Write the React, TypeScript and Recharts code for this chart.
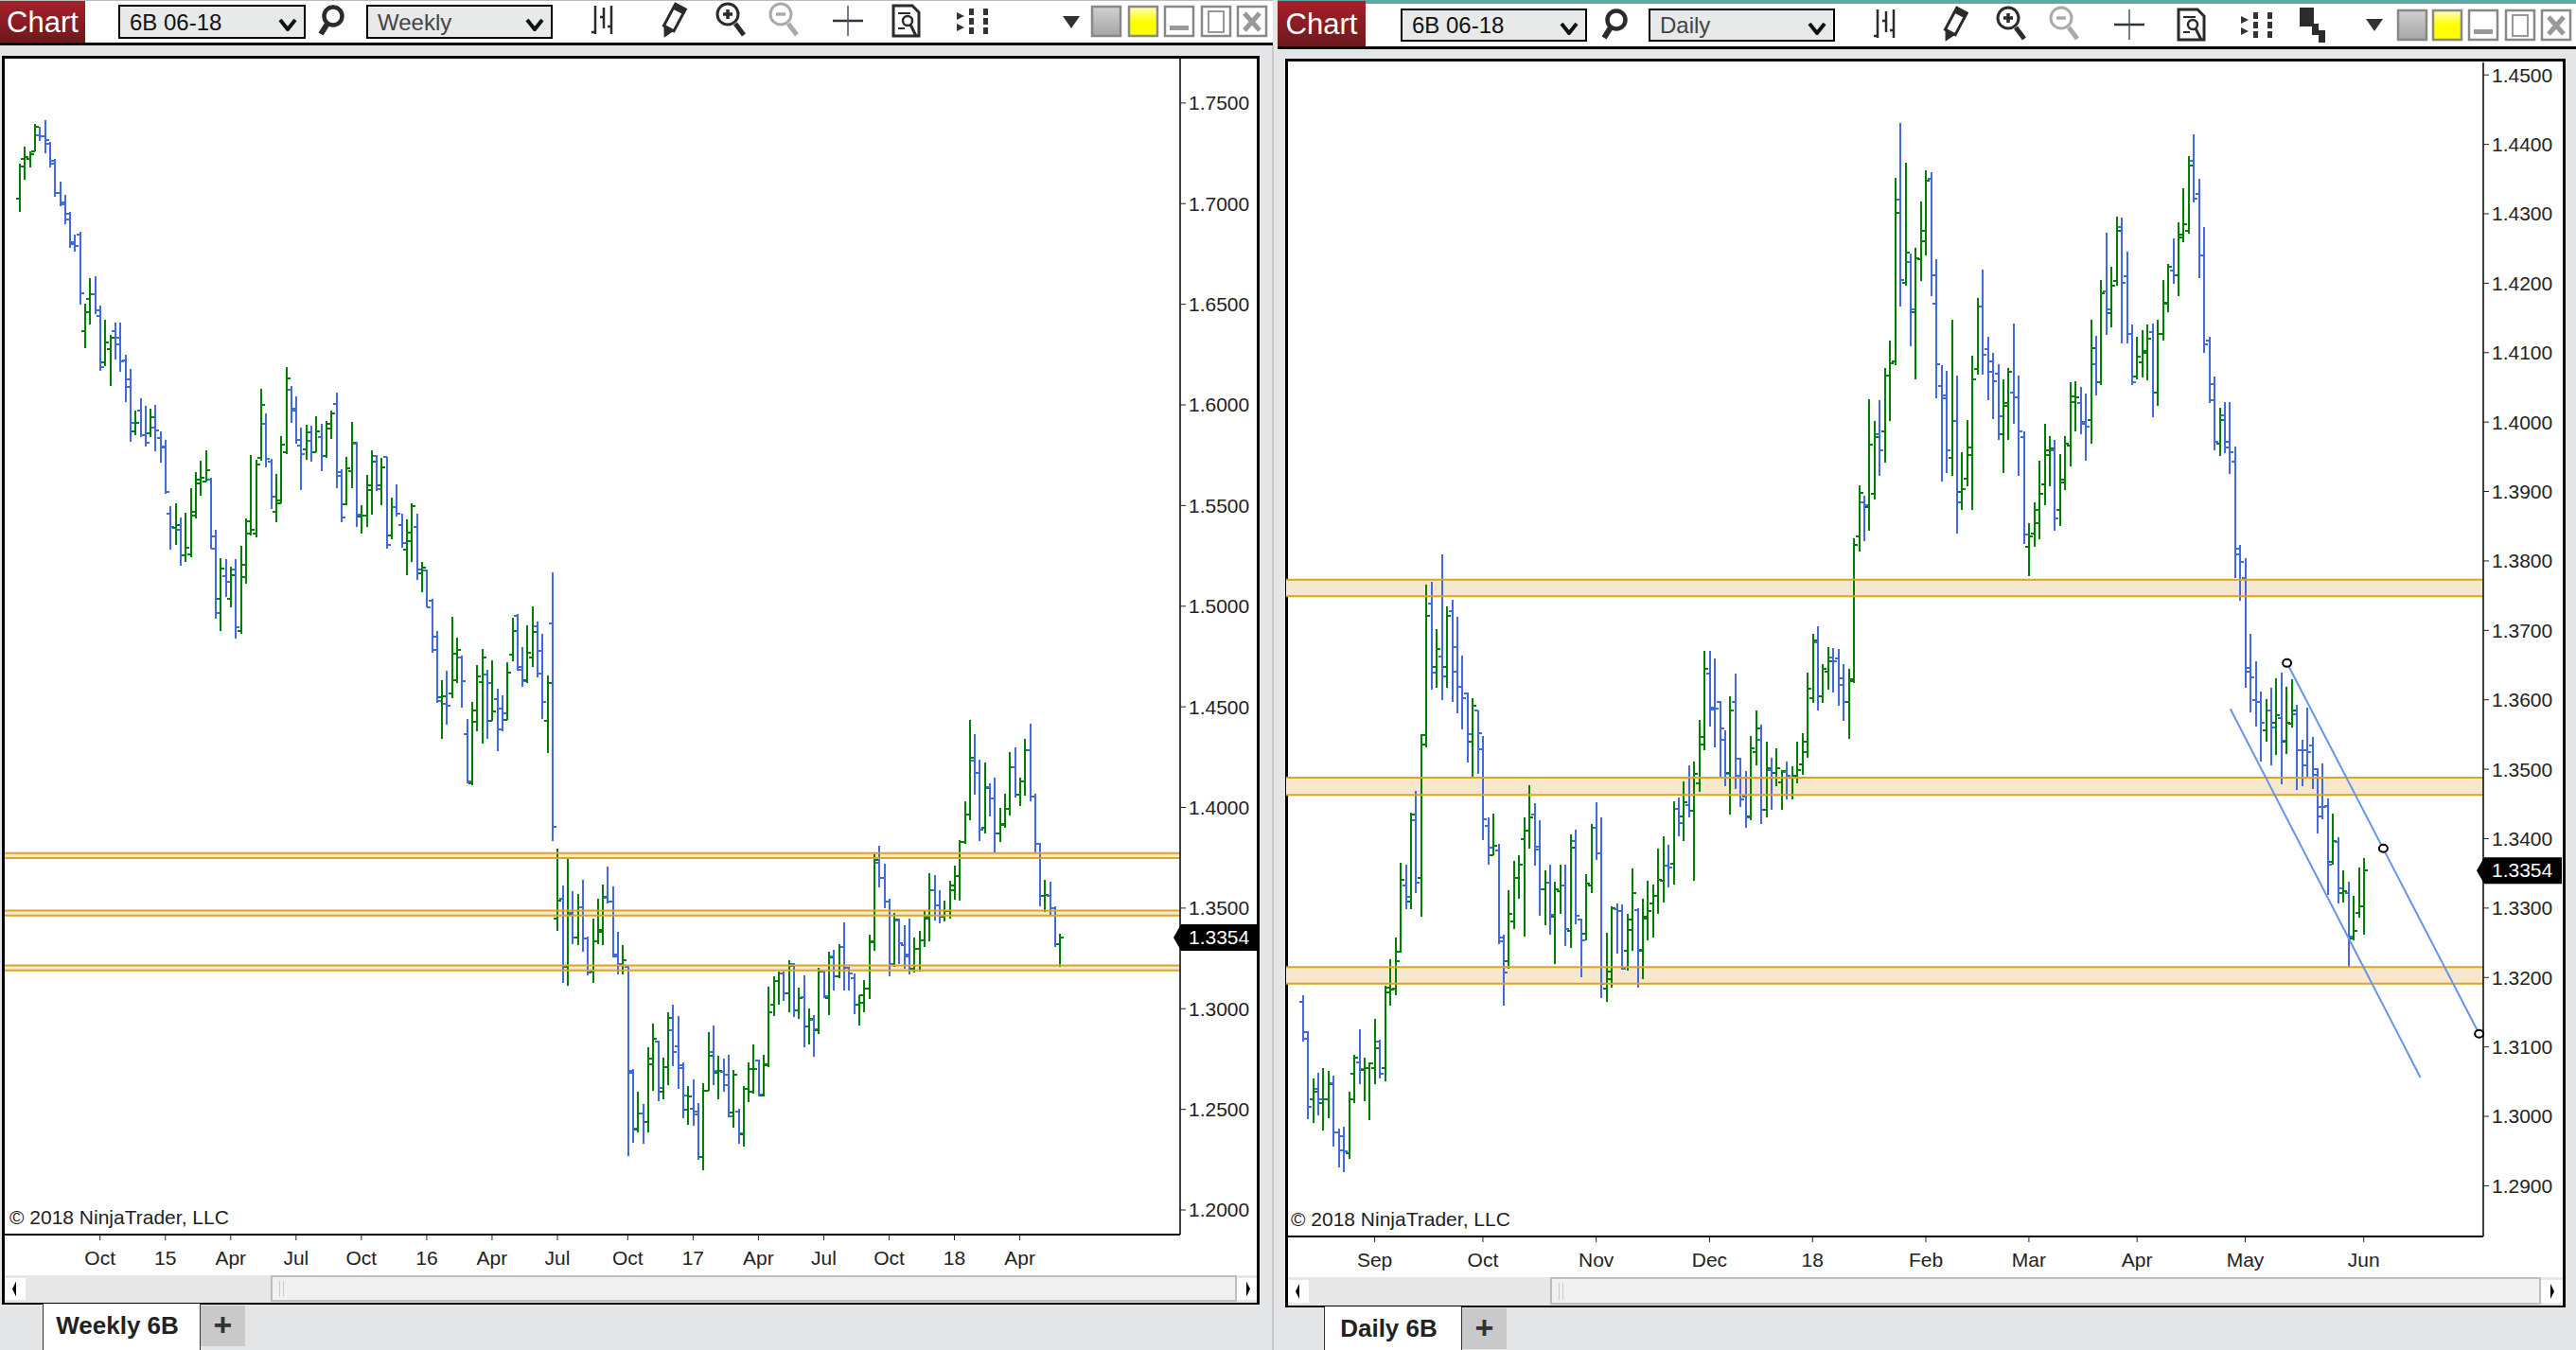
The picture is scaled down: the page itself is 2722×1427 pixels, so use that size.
import { Bar, ComposedChart, ReferenceArea, ReferenceDot, ReferenceLine, XAxis, YAxis } from 'recharts';

// [open, high, low, close]
const weeklyOhlc = [
  [1.7026,1.7199,1.6960,1.7186],[1.7221,1.7282,1.7120,1.7231],[1.7221,1.7258,1.7181,1.7244],[1.7258,1.7395,1.7258,1.7383],
  [1.7341,1.7384,1.7312,1.7334],[1.7334,1.7413,1.7251,1.7316],[1.7298,1.7305,1.7181,1.7199],[1.7213,1.7222,1.7032,1.7055],
  [1.7055,1.7107,1.6985,1.7005],[1.6996,1.7042,1.6898,1.6922],[1.6951,1.6961,1.6781,1.6807],[1.6798,1.6848,1.6763,1.6790],
  [1.6848,1.6862,1.6499,1.6555],[1.6367,1.6501,1.6283,1.6463],[1.6528,1.6632,1.6400,1.6551],[1.6551,1.6639,1.6452,1.6470],
  [1.6443,1.6495,1.6169,1.6186],[1.6213,1.6425,1.6193,1.6308],[1.6279,1.6349,1.6096,1.6333],[1.6367,1.6407,1.6227,1.6301],
  [1.6333,1.6411,1.6166,1.6218],[1.6222,1.6247,1.6015,1.6090],[1.6128,1.6177,1.5817,1.5910],[1.5869,1.5970,1.5851,1.5910],
  [1.5971,1.6034,1.5840,1.5849],[1.5849,1.5997,1.5793,1.5811],[1.5860,1.5979,1.5840,1.5939],[1.5885,1.6002,1.5770,1.5871],
  [1.5835,1.5867,1.5714,1.5791],[1.5788,1.5827,1.5559,1.5566],[1.5460,1.5496,1.5283,1.5396],[1.5391,1.5510,1.5306,1.5403],
  [1.5380,1.5439,1.5203,1.5255],[1.5255,1.5463,1.5222,1.5291],[1.5258,1.5587,1.5245,1.5469],[1.5450,1.5665,1.5438,1.5631],
  [1.5612,1.5722,1.5551,1.5640],[1.5618,1.5775,1.5618,1.5678],[1.5631,1.5638,1.5284,1.5286],[1.5347,1.5380,1.4940,1.4966],
  [1.5038,1.5237,1.4878,1.5187],[1.5150,1.5234,1.5048,1.5121],[1.5038,1.5195,1.4996,1.5154],[1.5182,1.5233,1.4841,1.4897],
  [1.4875,1.5298,1.4864,1.5208],[1.5145,1.5435,1.5114,1.5422],[1.5361,1.5750,1.5352,1.5380],[1.5361,1.5726,1.5344,1.5704],
  [1.5736,1.6078,1.5723,1.6000],[1.5905,1.5959,1.5691,1.5732],[1.5719,1.5732,1.5482,1.5543],[1.5467,1.5658,1.5417,1.5525],
  [1.5511,1.5847,1.5509,1.5802],[1.5764,1.6186,1.5754,1.6132],[1.6074,1.6096,1.5912,1.5980],[1.5971,1.6042,1.5808,1.5826],
  [1.5797,1.5885,1.5577,1.5755],[1.5779,1.5903,1.5728,1.5863],[1.5822,1.5898,1.5718,1.5764],[1.5764,1.5944,1.5763,1.5869],
  [1.5840,1.5908,1.5671,1.5745],[1.5746,1.5919,1.5739,1.5883],[1.5907,1.5971,1.5831,1.5957],[1.6007,1.6063,1.5586,1.5647],
  [1.5668,1.5679,1.5419,1.5443],[1.5507,1.5740,1.5501,1.5685],[1.5673,1.5917,1.5588,1.5811],[1.5807,1.5815,1.5396,1.5455],
  [1.5446,1.5500,1.5363,1.5449],[1.5449,1.5651,1.5396,1.5602],[1.5579,1.5775,1.5457,1.5718],[1.5747,1.5753,1.5574,1.5580],
  [1.5602,1.5737,1.5504,1.5690],[1.5740,1.5740,1.5287,1.5305],[1.5352,1.5540,1.5334,1.5493],[1.5493,1.5604,1.5447,1.5461],
  [1.5403,1.5458,1.5292,1.5316],[1.5283,1.5432,1.5156,1.5366],[1.5323,1.5510,1.5222,1.5497],[1.5394,1.5458,1.5132,1.5182],
  [1.5165,1.5218,1.5071,1.5192],[1.5178,1.5184,1.4993,1.4993],[1.5029,1.5035,1.4770,1.4781],[1.4850,1.4875,1.4521,1.4527],
  [1.4549,1.4631,1.4341,1.4551],[1.4515,1.4678,1.4413,1.4506],[1.4568,1.4946,1.4545,1.4766],[1.4634,1.4842,1.4620,1.4784],
  [1.4745,1.4753,1.4498,1.4628],[1.4366,1.4438,1.4118,1.4129],[1.4118,1.4523,1.4112,1.4482],[1.4427,1.4706,1.4380,1.4651],
  [1.4623,1.4786,1.4319,1.4747],[1.4662,1.4683,1.4343,1.4620],[1.4432,1.4730,1.4432,1.4479],[1.4540,1.4589,1.4281,1.4390],
  [1.4493,1.4556,1.4380,1.4468],[1.4435,1.4722,1.4435,1.4672],[1.4761,1.4941,1.4725,1.4878],[1.4954,1.4960,1.4678,1.4683],
  [1.4698,1.4795,1.4601,1.4628],[1.4631,1.4904,1.4620,1.4769],[1.4745,1.4998,1.4700,1.4874],[1.4900,1.4922,1.4648,1.4667],
  [1.4778,1.4861,1.4440,1.4524],[1.4432,1.4654,1.4272,1.4618],[1.4914,1.5167,1.3832,1.3905],[1.3448,1.3798,1.3385,1.3536],
  [1.3546,1.3611,1.3126,1.3215],[1.3210,1.3748,1.3114,1.3469],[1.3474,1.3582,1.3323,1.3354],[1.3354,1.3570,1.3318,1.3503],
  [1.3505,1.3642,1.3282,1.3347],[1.3347,1.3359,1.3167,1.3181],[1.3184,1.3450,1.3126,1.3337],[1.3337,1.3546,1.3323,1.3390],
  [1.3383,1.3618,1.3318,1.3558],[1.3553,1.3707,1.3522,1.3534],[1.3534,1.3606,1.3253,1.3258],[1.3270,1.3383,1.3172,1.3222],
  [1.3217,1.3318,1.3172,1.3239],[1.3210,1.3210,1.2267,1.2682],[1.2689,1.2699,1.2334,1.2406],[1.2399,1.2586,1.2387,1.2478],
  [1.2478,1.2526,1.2327,1.2435],[1.2435,1.2809,1.2387,1.2754],[1.2725,1.2927,1.2593,1.2850],[1.2838,1.2843,1.2543,1.2605],
  [1.2586,1.2759,1.2550,1.2711],[1.2711,1.2982,1.2622,1.2953],[1.2893,1.3018,1.2713,1.2785],[1.2814,1.2965,1.2603,1.2706],
  [1.2718,1.2735,1.2454,1.2569],[1.2497,1.2615,1.2425,1.2562],[1.2502,1.2651,1.2418,1.2490],[1.2473,1.2533,1.2250,1.2262],
  [1.2262,1.2629,1.2197,1.2591],[1.2593,1.2886,1.2591,1.2766],[1.2783,1.2915,1.2622,1.2689],[1.2682,1.2766,1.2550,1.2689],
  [1.2687,1.2754,1.2586,1.2622],[1.2670,1.2773,1.2459,1.2466],[1.2485,1.2694,1.2411,1.2670],[1.2490,1.2502,1.2329,1.2382],
  [1.2377,1.2615,1.2315,1.2603],[1.2603,1.2735,1.2538,1.2699],[1.2586,1.2821,1.2579,1.2699],[1.2742,1.2747,1.2562,1.2574],
  [1.2569,1.2773,1.2562,1.2718],[1.2723,1.3109,1.2711,1.2982],[1.3018,1.3162,1.2965,1.3138],[1.3138,1.3186,1.3018,1.3174],
  [1.3174,1.3186,1.3037,1.3078],[1.3078,1.3239,1.2982,1.3215],[1.3222,1.3229,1.2958,1.2994],[1.2994,1.3107,1.2951,1.3054],
  [1.3059,1.3167,1.2809,1.2910],[1.2910,1.2999,1.2821,1.2951],[1.2946,1.2970,1.2761,1.2898],[1.2893,1.3203,1.2874,1.3186],
  [1.3186,1.3191,1.3054,1.3061],[1.3054,1.3282,1.2970,1.3253],[1.3258,1.3294,1.3090,1.3162],[1.3162,1.3323,1.3150,1.3306],
  [1.3306,1.3431,1.3090,1.3203],[1.3203,1.3210,1.3090,1.3174],[1.3150,1.3174,1.2975,1.3018],[1.3018,1.3066,1.2917,1.3066],
  [1.3030,1.3143,1.2982,1.3102],[1.3102,1.3366,1.3049,1.3335],[1.3330,1.3769,1.3289,1.3738],[1.3726,1.3810,1.3601,1.3649],
  [1.3649,1.3721,1.3498,1.3534],[1.3534,1.3546,1.3162,1.3222],[1.3217,1.3474,1.3210,1.3443],[1.3438,1.3450,1.3222,1.3325],
  [1.3318,1.3414,1.3198,1.3270],[1.3258,1.3450,1.3169,1.3198],[1.3198,1.3354,1.3179,1.3299],[1.3299,1.3385,1.3184,1.3342],
  [1.3342,1.3486,1.3306,1.3455],[1.3450,1.3673,1.3335,1.3587],[1.3587,1.3666,1.3438,1.3515],[1.3515,1.3589,1.3426,1.3455],
  [1.3455,1.3539,1.3433,1.3486],[1.3486,1.3635,1.3450,1.3611],[1.3587,1.3709,1.3541,1.3659],[1.3659,1.3836,1.3539,1.3827],
  [1.3827,1.4033,1.3817,1.3966],[1.3966,1.4434,1.3937,1.4247],[1.4235,1.4364,1.4062,1.4170],[1.4170,1.4237,1.3834,1.3889],
  [1.3901,1.4225,1.3870,1.4098],[1.4103,1.4122,1.3954,1.4043],[1.4043,1.4146,1.3774,1.3870],[1.3870,1.3997,1.3827,1.3918],
  [1.3913,1.4069,1.3901,1.3995],[1.3995,1.4273,1.3961,1.4201],[1.4201,1.4297,1.4048,1.4062],[1.4062,1.4146,1.4007,1.4129],
  [1.4129,1.4343,1.4057,1.4283],[1.4283,1.4417,1.4031,1.4055],[1.4055,1.4067,1.3779,1.3817],[1.3817,1.3822,1.3510,1.3563],
  [1.3563,1.3642,1.3481,1.3565],[1.3563,1.3630,1.3469,1.3498],[1.3498,1.3510,1.3306,1.3323],[1.3323,1.3371,1.3210,1.3354],
];

const dailyOhlc = [
  [1.3165,1.3174,1.3108,1.3122],[1.3112,1.3123,1.2996,1.3014],[1.3024,1.3055,1.2991,1.3036],[1.3040,1.3063,1.3002,1.3024],
  [1.3019,1.3069,1.2980,1.3025],[1.3024,1.3066,1.2998,1.3047],[1.3048,1.3058,1.2957,1.2977],[1.2977,1.2983,1.2927,1.2971],
  [1.2951,1.2985,1.2919,1.2950],[1.2947,1.3036,1.2939,1.3024],[1.3061,1.3089,1.3019,1.3084],[1.3078,1.3126,1.3047,1.3068],
  [1.3067,1.3084,1.3022,1.3069],[1.3069,1.3078,1.2994,1.3077],[1.3070,1.3140,1.3047,1.3098],[1.3108,1.3110,1.3054,1.3062],
  [1.3070,1.3188,1.3050,1.3185],[1.3179,1.3226,1.3159,1.3183],[1.3184,1.3257,1.3174,1.3223],[1.3237,1.3365,1.3236,1.3341],
  [1.3332,1.3363,1.3299,1.3316],[1.3310,1.3438,1.3299,1.3435],[1.3426,1.3469,1.3322,1.3337],[1.3344,1.3550,1.3287,1.3549],
  [1.3535,1.3766,1.3531,1.3721],[1.3739,1.3770,1.3614,1.3639],[1.3647,1.3702,1.3617,1.3673],[1.3662,1.3810,1.3599,1.3633],
  [1.3647,1.3735,1.3617,1.3721],[1.3728,1.3744,1.3597,1.3676],[1.3641,1.3719,1.3580,1.3619],[1.3619,1.3664,1.3557,1.3603],
  [1.3609,1.3611,1.3510,1.3550],[1.3540,1.3602,1.3486,1.3592],[1.3585,1.3585,1.3493,1.3552],[1.3529,1.3548,1.3398,1.3428],
  [1.3419,1.3431,1.3362,1.3387],[1.3376,1.3436,1.3376,1.3390],[1.3383,1.3392,1.3248,1.3252],[1.3258,1.3261,1.3160,1.3207],
  [1.3223,1.3326,1.3213,1.3292],[1.3281,1.3368,1.3270,1.3343],[1.3343,1.3376,1.3314,1.3362],[1.3399,1.3430,1.3259,1.3412],
  [1.3412,1.3477,1.3386,1.3431],[1.3435,1.3451,1.3361,1.3384],[1.3388,1.3426,1.3289,1.3327],[1.3327,1.3355,1.3275,1.3337],
  [1.3337,1.3363,1.3262,1.3290],[1.3288,1.3338,1.3219,1.3327],[1.3324,1.3363,1.3291,1.3332],[1.3332,1.3362,1.3246,1.3270],
  [1.3267,1.3406,1.3242,1.3387],[1.3397,1.3413,1.3277,1.3289],[1.3284,1.3285,1.3201,1.3254],[1.3263,1.3349,1.3253,1.3335],
  [1.3332,1.3421,1.3321,1.3415],[1.3416,1.3453,1.3370,1.3379],[1.3379,1.3431,1.3170,1.3191],[1.3184,1.3265,1.3165,1.3208],
  [1.3197,1.3303,1.3186,1.3300],[1.3299,1.3306,1.3235,1.3296],[1.3296,1.3305,1.3211,1.3212],[1.3239,1.3292,1.3210,1.3284],
  [1.3269,1.3357,1.3238,1.3322],[1.3297,1.3300,1.3186,1.3240],[1.3238,1.3313,1.3198,1.3288],[1.3285,1.3339,1.3254,1.3296],
  [1.3307,1.3334,1.3257,1.3317],[1.3317,1.3386,1.3291,1.3341],[1.3340,1.3404,1.3308,1.3361],[1.3361,1.3391,1.3330,1.3358],
  [1.3364,1.3454,1.3334,1.3443],[1.3443,1.3459,1.3404,1.3423],[1.3432,1.3482,1.3397,1.3453],[1.3449,1.3505,1.3430,1.3440],
  [1.3440,1.3511,1.3340,1.3493],[1.3480,1.3571,1.3467,1.3546],[1.3535,1.3670,1.3528,1.3644],[1.3638,1.3670,1.3562,1.3586],
  [1.3589,1.3659,1.3531,1.3588],[1.3597,1.3598,1.3487,1.3559],[1.3543,1.3556,1.3475,1.3493],[1.3495,1.3605,1.3435,1.3585],
  [1.3597,1.3638,1.3471,1.3491],[1.3515,1.3516,1.3445,1.3457],[1.3460,1.3498,1.3416,1.3431],[1.3432,1.3548,1.3426,1.3530],
  [1.3525,1.3585,1.3506,1.3559],[1.3543,1.3564,1.3421,1.3442],[1.3442,1.3540,1.3431,1.3501],[1.3499,1.3516,1.3442,1.3495],
  [1.3495,1.3530,1.3476,1.3501],[1.3481,1.3499,1.3441,1.3497],[1.3496,1.3511,1.3456,1.3491],[1.3488,1.3504,1.3457,1.3491],
  [1.3489,1.3539,1.3480,1.3499],[1.3507,1.3552,1.3492,1.3539],[1.3524,1.3639,1.3516,1.3616],[1.3603,1.3695,1.3595,1.3686],
  [1.3683,1.3706,1.3584,1.3605],[1.3605,1.3651,1.3595,1.3645],[1.3641,1.3676,1.3614,1.3656],[1.3661,1.3675,1.3611,1.3655],
  [1.3660,1.3673,1.3591,1.3621],[1.3631,1.3652,1.3569,1.3597],[1.3597,1.3645,1.3544,1.3627],[1.3630,1.3833,1.3624,1.3823],
  [1.3836,1.3909,1.3814,1.3898],[1.3885,1.3894,1.3828,1.3880],[1.3878,1.4033,1.3843,1.3967],[1.3897,1.4001,1.3889,1.3979],
  [1.3983,1.4032,1.3923,1.3960],[1.3986,1.4078,1.3941,1.4067],[1.4067,1.4118,1.4001,1.4085],[1.4088,1.4352,1.4082,1.4302],
  [1.4321,1.4431,1.4166,1.4204],[1.4200,1.4373,1.4197,1.4244],[1.4231,1.4243,1.4109,1.4163],[1.4158,1.4251,1.4062,1.4236],
  [1.4234,1.4318,1.4203,1.4276],[1.4260,1.4363,1.4240,1.4347],[1.4350,1.4360,1.4181,1.4212],[1.4171,1.4234,1.4034,1.4083],
  [1.4052,1.4082,1.3915,1.4039],[1.4034,1.4074,1.3926,1.3959],[1.3948,1.4147,1.3922,1.4001],[1.4002,1.4067,1.3839,1.3885],
  [1.3900,1.3956,1.3873,1.3903],[1.3918,1.4003,1.3908,1.3964],[1.3953,1.4095,1.3874,1.4062],[1.4077,1.4179,1.4068,1.4167],
  [1.4167,1.4220,1.4069,1.4097],[1.4105,1.4123,1.4031,1.4088],[1.4072,1.4100,1.4004,1.4059],[1.4070,1.4084,1.3974,1.4008],
  [1.3983,1.4062,1.3926,1.4028],[1.4024,1.4078,1.3974,1.4072],[1.4042,1.4142,1.3997,1.4035],[1.4035,1.4067,1.3923,1.3986],
  [1.3979,1.3987,1.3824,1.3838],[1.3820,1.3854,1.3778,1.3836],[1.3840,1.3885,1.3820,1.3874],[1.3855,1.3944,1.3831,1.3896],
  [1.3910,1.3997,1.3880,1.3960],[1.3953,1.3980,1.3908,1.3962],[1.3960,1.3974,1.3843,1.3861],[1.3874,1.3954,1.3850,1.3917],
  [1.3913,1.3980,1.3902,1.3969],[1.3966,1.4057,1.3936,1.4037],[1.4029,1.4059,1.3986,1.4035],[1.4027,1.4051,1.3982,1.4000],
  [1.3997,1.4041,1.3944,1.3993],[1.4003,1.4147,1.3969,1.4107],[1.4083,1.4124,1.4038,1.4057],[1.4058,1.4204,1.4053,1.4185],
  [1.4188,1.4273,1.4125,1.4162],[1.4157,1.4224,1.4136,1.4197],[1.4203,1.4296,1.4196,1.4276],[1.4281,1.4295,1.4113,1.4201],
  [1.4210,1.4246,1.4113,1.4127],[1.4127,1.4140,1.4053,1.4058],[1.4065,1.4123,1.4061,1.4094],[1.4086,1.4132,1.4064,1.4099],
  [1.4103,1.4141,1.4060,1.4120],[1.4129,1.4142,1.4007,1.4043],[1.4042,1.4147,1.4023,1.4127],[1.4127,1.4204,1.4117,1.4172],
  [1.4171,1.4228,1.4158,1.4223],[1.4218,1.4265,1.4199,1.4212],[1.4212,1.4288,1.4182,1.4266],[1.4270,1.4337,1.4259,1.4285],
  [1.4276,1.4383,1.4271,1.4370],[1.4376,1.4415,1.4317,1.4322],[1.4328,1.4351,1.4207,1.4240],[1.4240,1.4281,1.4099,1.4112],
  [1.4118,1.4123,1.4028,1.4055],[1.4032,1.4066,1.3959,1.3971],[1.3969,1.4021,1.3951,1.4003],[1.4010,1.4029,1.3955,1.3972],
  [1.3963,1.4029,1.3925,1.3956],[1.3943,1.3965,1.3776,1.3818],[1.3809,1.3823,1.3742,1.3798],[1.3776,1.3804,1.3617,1.3646],
  [1.3640,1.3695,1.3582,1.3632],[1.3600,1.3655,1.3561,1.3597],[1.3597,1.3612,1.3511,1.3567],[1.3556,1.3601,1.3539,1.3585],
  [1.3585,1.3617,1.3505,1.3560],[1.3567,1.3631,1.3521,1.3578],[1.3574,1.3639,1.3479,1.3541],[1.3540,1.3618,1.3522,1.3567],
  [1.3566,1.3630,1.3560,1.3585],[1.3579,1.3593,1.3470,1.3528],[1.3528,1.3542,1.3475,1.3505],[1.3528,1.3589,1.3489,1.3525],
  [1.3534,1.3546,1.3471,1.3492],[1.3500,1.3501,1.3407,1.3432],[1.3446,1.3508,1.3428,1.3445],[1.3447,1.3458,1.3319,1.3362],
  [1.3366,1.3436,1.3362,1.3396],[1.3395,1.3402,1.3306,1.3329],[1.3321,1.3355,1.3308,1.3325],[1.3321,1.3338,1.3215,1.3259],
  [1.3256,1.3318,1.3254,1.3267],[1.3293,1.3358,1.3286,1.3302],[1.3302,1.3372,1.3262,1.3354],
];

const weeklyTickBars = [16, 29, 42, 55, 68, 81, 94, 107, 121, 134, 147, 160, 173, 186, 199];
const weeklyTickLabels = ['Oct', '15', 'Apr', 'Jul', 'Oct', '16', 'Apr', 'Jul', 'Oct', '17', 'Apr', 'Jul', 'Oct', '18', 'Apr'];
const weeklyPriceTicks = [1.2, 1.25, 1.3, 1.35, 1.4, 1.45, 1.5, 1.55, 1.6, 1.65, 1.7, 1.75];

const dailyTickBars = [14, 35, 57, 79, 99, 121, 141, 162, 183, 206];
const dailyTickLabels = ['Sep', 'Oct', 'Nov', 'Dec', '18', 'Feb', 'Mar', 'Apr', 'May', 'Jun'];
const dailyPriceTicks = [1.29, 1.3, 1.31, 1.32, 1.33, 1.34, 1.35, 1.36, 1.37, 1.38, 1.39, 1.4, 1.41, 1.42, 1.43, 1.44, 1.45];

const levelBands = [[1.3749, 1.3773], [1.3463, 1.3488], [1.3191, 1.3215]];
const lastPrice = 1.3354;

// channel drawn on the daily chart, [bar, price]
const channelUpper = [[191.1, 1.3653], [209.8, 1.3386], [228.4, 1.3119]];
const channelLower = [[180.1, 1.3587], [217, 1.3056]];

const FONT = '"Liberation Sans", Arial, sans-serif';
const UP = '#008000';
const DOWN = '#4169E1';
const GOLD = '#DAA520';

function toRows(bars: number[][]) {
  return bars.map(([open, high, low, close], i) => ({ i, open, high, low, close, range: [low, high] }));
}

function OhlcBar(props: any) {
  const { x, y, width, height, payload } = props;
  const { open, high, low, close } = payload;
  const top = Math.min(y, y + height);
  const h = Math.abs(height);
  const priceY = (v: number) => top + ((high - v) / (high - low)) * h;
  const cx = Math.round(x + width / 2);
  const color = close >= open ? UP : DOWN;
  return (
    <g shapeRendering="crispEdges">
      <rect x={cx - 1} y={top} width={2} height={Math.max(h, 1)} fill={color} />
      <rect x={cx - 4} y={Math.round(priceY(open)) - 1} width={4} height={2} fill={color} />
      <rect x={cx} y={Math.round(priceY(close)) - 1} width={4} height={2} fill={color} />
    </g>
  );
}

function PriceTag(props: any) {
  const { cx, cy } = props;
  const right = cx + props.tagWidth;
  return (
    <g>
      <path d={`M${cx - 7} ${cy} L${cx + 1} ${cy - 14} H${right} V${cy + 14} H${cx + 1} Z`} fill="#000" />
      <text x={cx + 9} y={cy + 7} fontSize={21} fontFamily={FONT} fill="#fff">{lastPrice.toFixed(4)}</text>
    </g>
  );
}

function Anchor(props: any) {
  return <ellipse cx={props.cx} cy={props.cy} rx={4.5} ry={4} fill="#fff" stroke="#000" strokeWidth={2} />;
}

function PriceChart({ rows, width, height, plotLeft, plotRight, plotTop, xDomain, yDomain, tickBars, tickLabels, priceTicks, tagWidth, linesOnTop, children }: any) {
  const levelLines = levelBands.flat().map((v) => <ReferenceLine key={v} y={v} stroke={GOLD} strokeWidth={2} />);
  return (
    <ComposedChart
      width={width}
      height={height}
      data={rows}
      margin={{ top: plotTop, left: plotLeft, right: width - plotRight - 84, bottom: 0 }}
      style={{ position: 'absolute', left: 0, top: 0 }}
    >
      <XAxis
        dataKey="i"
        type="number"
        domain={xDomain}
        allowDataOverflow
        ticks={tickBars}
        interval={0}
        tickFormatter={(v: number) => tickLabels[tickBars.indexOf(v)]}
        height={40}
        tickSize={6}
        tickMargin={11}
        axisLine={{ stroke: '#000', strokeWidth: 2 }}
        tickLine={{ stroke: '#222' }}
        tick={{ fontSize: 21, fontFamily: FONT, fill: '#222' }}
      />
      <YAxis
        orientation="right"
        type="number"
        domain={yDomain}
        allowDataOverflow
        ticks={priceTicks}
        interval={0}
        width={84}
        tickFormatter={(v: number) => v.toFixed(4)}
        tickSize={6}
        tickMargin={3}
        axisLine={{ stroke: '#000', strokeWidth: 1.5 }}
        tickLine={{ stroke: '#222' }}
        tick={{ fontSize: 21, fontFamily: FONT, fill: '#222' }}
      />
      {levelBands.map(([lo, hi]) => <ReferenceArea key={lo} y1={lo} y2={hi} fill="#F7E7CC" fillOpacity={1} stroke="none" />)}
      {!linesOnTop && levelLines}
      <Bar dataKey="range" barSize={2} isAnimationActive={false} shape={OhlcBar} />
      {linesOnTop && levelLines}
      {children}
      <ReferenceDot x={xDomain[1]} y={lastPrice} ifOverflow="visible" shape={(p: any) => <PriceTag {...p} tagWidth={tagWidth} />} />
    </ComposedChart>
  );
}

function Icon({ kind, cx, cy }: { kind: string; cx: number; cy: number }) {
  const dark = '#2b2b2b';
  const t = `translate(${cx} ${cy})`;
  if (kind === 'search') return (
    <g transform={t} stroke={dark} fill="none">
      <circle cx={3} cy={-5} r={9.5} strokeWidth={4.5} />
      <line x1={-3} y1={3} x2={-10} y2={14} strokeWidth={6} />
    </g>
  );
  if (kind === 'bars') return (
    <g transform={t} stroke={dark} strokeWidth={2.5}>
      <line x1={-8} y1={-16} x2={-8} y2={14} /><line x1={-12} y1={12} x2={-8} y2={12} />
      <line x1={1} y1={-14} x2={1} y2={8} /><line x1={-3} y1={-4} x2={1} y2={-4} />
      <line x1={9} y1={-16} x2={9} y2={14} /><line x1={5} y1={6} x2={9} y2={6} />
    </g>
  );
  if (kind === 'pencil') return (
    <g transform={`${t} rotate(28)`}>
      <rect x={-6} y={-17} width={12} height={26} fill="#fff" stroke={dark} strokeWidth={3} />
      <path d="M-6 9 L6 9 L0 20 Z" fill={dark} />
      <rect x={-6} y={-18} width={12} height={7} fill={dark} />
    </g>
  );
  if (kind === 'zoomIn' || kind === 'zoomOut') {
    const c = kind === 'zoomIn' ? dark : '#aaa';
    return (
      <g transform={t} stroke={c} fill="none">
        <circle cx={-3} cy={-7} r={11} strokeWidth={3} />
        <line x1={-8} y1={-7} x2={2} y2={-7} strokeWidth={3.5} />
        {kind === 'zoomIn' && <line x1={-3} y1={-12} x2={-3} y2={-2} strokeWidth={3.5} />}
        <line x1={5} y1={3} x2={14} y2={15} strokeWidth={5} />
      </g>
    );
  }
  if (kind === 'cross') return (
    <g transform={t}>
      <line x1={-16} y1={0} x2={16} y2={0} stroke="#333" strokeWidth={2.5} />
      <line x1={0} y1={-16} x2={0} y2={16} stroke="#456" strokeWidth={1.5} />
    </g>
  );
  if (kind === 'doc') return (
    <g transform={t} fill="none" stroke={dark}>
      <path d="M-14 -16 H6 L13 -9 V16 H-14 Z" strokeWidth={3} />
      <line x1={-9} y1={-8} x2={4} y2={-8} strokeWidth={2} />
      <line x1={-9} y1={8} x2={-2} y2={8} strokeWidth={2} />
      <circle cx={1} cy={0} r={5} strokeWidth={2.5} />
      <line x1={4} y1={4} x2={10} y2={16} strokeWidth={3} />
    </g>
  );
  if (kind === 'grid') return (
    <g transform={t} fill="#333">
      <path d="M-17 -9 L-9 -5 L-17 -1 Z" /><path d="M-17 3 L-9 7 L-17 11 Z" />
      {[-13, -3, 7].map((y) => <g key={y}><rect x={-4} y={y} width={5} height={7} /><rect x={11} y={y} width={5} height={7} /></g>)}
    </g>
  );
  if (kind === 'stack') return (
    <g transform={t} fill={dark}>
      <rect x={-14} y={-18} width={15} height={20} />
      <rect x={-1} y={-1} width={7} height={12} />
      <rect x={6} y={6} width={7} height={13} />
    </g>
  );
  return null;
}

function WinButton({ x, y, kind }: { x: number; y: number; kind: string }) {
  const fill = kind === 'gray' ? 'url(#grayBtn)' : kind === 'yellow' ? 'url(#yellowBtn)' : '#fff';
  return (
    <g transform={`translate(${x} ${y})`}>
      <rect x={1} y={1} width={30} height={31} fill={fill} stroke="#888" strokeWidth={2.5} />
      {kind === 'min' && <rect x={6} y={21} width={20} height={5} fill="#999" />}
      {kind === 'max' && <rect x={8} y={6} width={16} height={22} fill="#fff" stroke="#999" strokeWidth={2} />}
      {kind === 'close' && <path d="M8 8 L24 26 M24 8 L8 26" stroke="#999" strokeWidth={5} />}
    </g>
  );
}

function Select({ x, y, w, h, text, color }: any) {
  return (
    <div style={{ position: 'absolute', left: x, top: y, width: w, height: h, boxSizing: 'border-box', border: '2.5px solid #000', background: '#E8E9E9', font: `24px ${FONT}`, color, lineHeight: `${h - 3}px`, paddingLeft: 10 }}>
      {text}
      <svg width={20} height={14} style={{ position: 'absolute', right: 7, top: 12 }}>
        <path d="M2 2 L10 12 L18 2" fill="none" stroke="#111" strokeWidth={4} />
      </svg>
    </div>
  );
}

function Toolbar({ left, width, top, height, btnLeft, btnWidth, selects, icons, buttons }: any) {
  return (
    <>
      <div style={{ position: 'absolute', left, top, width, height, background: '#fff', borderBottom: '3px solid #000' }} />
      <div style={{ position: 'absolute', left: btnLeft, top: 1, width: btnWidth, height: top + height - 1, background: 'linear-gradient(#A91F2A, #6B1A1C)', color: '#fff', font: `31px ${FONT}`, lineHeight: `${top + height + 1}px`, textAlign: 'center' }}>Chart</div>
      {selects.map((s: any) => <Select key={s.x} {...s} />)}
      <svg width={2722} height={60} style={{ position: 'absolute', left: 0, top: 0 }}>
        <defs>
          <linearGradient id="grayBtn" x1="0" y1="0" x2="0" y2="1"><stop offset="0" stopColor="#D0D0D0" /><stop offset="1" stopColor="#A6A6A6" /></linearGradient>
          <linearGradient id="yellowBtn" x1="0" y1="0" x2="0" y2="1"><stop offset="0" stopColor="#FFFFC0" /><stop offset="0.5" stopColor="#FFFF00" /></linearGradient>
        </defs>
        {icons.map((ic: any) => <Icon key={ic.kind + ic.cx} {...ic} />)}
        {buttons.map((b: any) => <WinButton key={b.x} {...b} />)}
      </svg>
    </>
  );
}

function Scrollbar({ x, y, w, h, thumbLeft, thumbRight }: any) {
  return (
    <div style={{ position: 'absolute', left: x, top: y, width: w, height: h, background: '#E7E7E7' }}>
      <div style={{ position: 'absolute', left: 0, top: 3, width: 22, height: h - 6, background: '#fff' }}>
        <svg width={22} height={h - 6}><path d={`M8 ${(h - 6) / 2} L12 ${(h - 6) / 2 - 8} V${(h - 6) / 2 + 8} Z`} fill="#000" /></svg>
      </div>
      <div style={{ position: 'absolute', left: thumbLeft - x, top: 0, width: thumbRight - thumbLeft, height: h - 1, boxSizing: 'border-box', background: '#F1F1F1', border: '2px solid #BDBDBD' }}>
        <div style={{ position: 'absolute', left: 7, top: 4, width: 3, height: h - 12, borderLeft: '1px solid #ccc', borderRight: '1px solid #ccc' }} />
      </div>
      <div style={{ position: 'absolute', left: thumbRight - x, top: 3, width: w - (thumbRight - x), height: h - 6, background: '#fff' }}>
        <svg width={22} height={h - 6}><path d={`M14 ${(h - 6) / 2} L10 ${(h - 6) / 2 - 8} V${(h - 6) / 2 + 8} Z`} fill="#000" /></svg>
      </div>
    </div>
  );
}

function Tab({ x, top, w, plusW, plusH, text }: any) {
  return (
    <>
      <div style={{ position: 'absolute', left: x, top, width: w, height: 1427 - top, boxSizing: 'border-box', background: '#fff', borderLeft: '1px solid #333', borderRight: '1.5px solid #333', font: `bold 26px ${FONT}`, color: '#222', textAlign: 'center', lineHeight: '46px', paddingRight: 9 }}>{text}</div>
      <div style={{ position: 'absolute', left: x + w, top: top + 2, width: plusW, height: plusH, background: '#C9C9C9', font: `bold 34px ${FONT}`, color: '#333', textAlign: 'center', lineHeight: `${plusH - 2}px` }}>+</div>
    </>
  );
}

const copyrightStyle = { position: 'absolute', font: `21px ${FONT}`, color: '#222' } as const;

export default function App() {
  return (
    <div style={{ position: 'fixed', left: 0, top: 0, width: 2722, height: 1427, background: '#E4E5E7', overflow: 'hidden' }}>
      <div style={{ position: 'absolute', left: 0, top: 0, width: 1345, height: 1, background: '#bbb' }} />
      <div style={{ position: 'absolute', left: 1350, top: 0, width: 1372, height: 4, background: '#5FA9A5' }} />
      <div style={{ position: 'absolute', left: 1344, top: 48, width: 2, height: 1379, background: '#C8C9CB' }} />

      <Toolbar
        left={0} width={1345} top={1} height={44} btnLeft={0} btnWidth={90}
        selects={[
          { x: 125, y: 5, w: 198, h: 36, text: '6B 06-18', color: '#111' },
          { x: 387, y: 5, w: 197, h: 36, text: 'Weekly', color: '#444' },
        ]}
        icons={[
          { kind: 'search', cx: 349, cy: 22 }, { kind: 'bars', cx: 637, cy: 22 }, { kind: 'pencil', cx: 711, cy: 22 },
          { kind: 'zoomIn', cx: 772, cy: 22 }, { kind: 'zoomOut', cx: 828, cy: 22 }, { kind: 'cross', cx: 896, cy: 22 },
          { kind: 'doc', cx: 958, cy: 22 }, { kind: 'grid', cx: 1028, cy: 22 },
        ]}
        buttons={[
          { x: 1153, y: 6, kind: 'gray' }, { x: 1192, y: 6, kind: 'yellow' }, { x: 1230, y: 6, kind: 'min' },
          { x: 1269, y: 6, kind: 'max' }, { x: 1307, y: 6, kind: 'close' },
        ]}
      />
      <div style={{ position: 'absolute', left: 1123, top: 17, width: 0, height: 0, borderLeft: '9px solid transparent', borderRight: '9px solid transparent', borderTop: '13px solid #333' }} />

      <Toolbar
        left={1350} width={1372} top={4} height={45} btnLeft={1350} btnWidth={93}
        selects={[
          { x: 1480, y: 9, w: 197, h: 35, text: '6B 06-18', color: '#111' },
          { x: 1742, y: 9, w: 197, h: 35, text: 'Daily', color: '#444' },
        ]}
        icons={[
          { kind: 'search', cx: 1705, cy: 26 }, { kind: 'bars', cx: 1992, cy: 26 }, { kind: 'pencil', cx: 2065, cy: 26 },
          { kind: 'zoomIn', cx: 2125, cy: 26 }, { kind: 'zoomOut', cx: 2181, cy: 26 }, { kind: 'cross', cx: 2250, cy: 26 },
          { kind: 'doc', cx: 2316, cy: 26 }, { kind: 'grid', cx: 2385, cy: 26 }, { kind: 'stack', cx: 2444, cy: 26 },
        ]}
        buttons={[
          { x: 2533, y: 10, kind: 'gray' }, { x: 2570, y: 10, kind: 'yellow' }, { x: 2608, y: 10, kind: 'min' },
          { x: 2647, y: 10, kind: 'max' }, { x: 2685, y: 10, kind: 'close' },
        ]}
      />
      <div style={{ position: 'absolute', left: 2500, top: 20, width: 0, height: 0, borderLeft: '9px solid transparent', borderRight: '9px solid transparent', borderTop: '13px solid #333' }} />

      {/* weekly panel */}
      <div style={{ position: 'absolute', left: 2, top: 59, width: 1329, height: 1320, boxSizing: 'border-box', background: '#fff', border: '3px solid #000' }} />
      <PriceChart
        rows={toRows(weeklyOhlc)} width={1340} height={1345}
        plotLeft={5} plotRight={1247} plotTop={61}
        xDomain={[-2.96, 230.9]} yDomain={[1.1878, 1.7725]}
        tickBars={weeklyTickBars} tickLabels={weeklyTickLabels} priceTicks={weeklyPriceTicks}
        tagWidth={83} linesOnTop
      />
      <div style={{ ...copyrightStyle, left: 10, top: 1275 }}>© 2018 NinjaTrader, LLC</div>
      <Scrollbar x={5} y={1348} w={1323} h={29} thumbLeft={286} thumbRight={1307} />
      <Tab x={45} top={1378} w={167} plusW={47} plusH={43} text="Weekly 6B" />

      {/* daily panel */}
      <div style={{ position: 'absolute', left: 1358, top: 62, width: 1353, height: 1320, boxSizing: 'border-box', background: '#fff', border: '3px solid #000' }} />
      <div style={{ position: 'absolute', left: 1358, top: 0, width: 1364, height: 1427, pointerEvents: 'none' }}>
        <PriceChart
          rows={toRows(dailyOhlc)} width={1350} height={1347}
          plotLeft={1} plotRight={1266} plotTop={66}
          xDomain={[-3.2, 229.2]} yDomain={[1.2827, 1.4518]}
          tickBars={dailyTickBars} tickLabels={dailyTickLabels} priceTicks={dailyPriceTicks}
          tagWidth={83}
        >
          {[channelUpper, channelLower].map((line) => (
            <ReferenceLine
              key={line[0][0]}
              segment={[{ x: line[0][0], y: line[0][1] }, { x: line[line.length - 1][0], y: line[line.length - 1][1] }]}
              stroke="#6495ED"
              strokeWidth={2}
            />
          ))}
          {channelUpper.map(([x, y]) => (
            <ReferenceDot key={x} x={x} y={y} ifOverflow="hidden" shape={Anchor} />
          ))}
        </PriceChart>
      </div>
      <div style={{ ...copyrightStyle, left: 1364, top: 1277 }}>© 2018 NinjaTrader, LLC</div>
      <Scrollbar x={1361} y={1350} w={1347} h={30} thumbLeft={1638} thumbRight={2685} />
      <Tab x={1399} top={1381} w={146} plusW={47} plusH={43} text="Daily 6B" />
    </div>
  );
}
